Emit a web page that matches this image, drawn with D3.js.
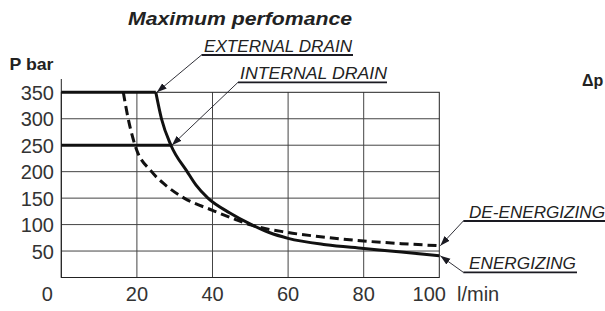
<!DOCTYPE html>
<html>
<head>
<meta charset="utf-8">
<script src="https://cdn.jsdelivr.net/npm/d3@7"></script>
<style>
body { margin: 0; background: #fff; }
svg { display: block; font-family: "Liberation Sans", Arial, sans-serif; }
</style>
</head>
<body>
<div id="chart"></div>
<script>
// values
const energFlow = [25, 26.5, 29, 33.3, 35.6, 38.8, 44.6, 50.3, 55, 60, 70, 80, 90, 100];
const energP    = [350, 300, 250, 200, 175, 150, 122, 100, 85, 74, 62, 55, 48, 41];

const deFlow = [16.4, 17.7, 19.5, 23.9, 27.5, 32.5, 40, 46.3, 50.3, 60, 70, 80, 90, 100];
const deP    = [350, 300, 250, 200, 175, 150, 127, 109, 99, 85, 76, 69, 64, 60];

// drain limits: pressure level and where it meets the energizing curve
const drainP    = [350, 250];
const drainFlow = [25, 29];

const xTicks = [0, 20, 40, 60, 80, 100];
const yTicks = [50, 100, 150, 200, 250, 300, 350];
const gridX = [20, 40, 60, 80];
const gridY = [50, 100, 150, 200, 250, 300];

const svgWidth = 605, svgHeight = 311;

const svg = d3.select("#chart")
  .append("svg")
  .attr("width", svgWidth)
  .attr("height", svgHeight);

const x = d3.scaleLinear().domain([0, 100]).range([61.3, 439.3]);
const y = d3.scaleLinear().domain([0, 350]).range([277.5, 92.3]);

const defs = svg.append("defs");
defs.append("marker")
  .attr("id", "arrow")
  .attr("viewBox", "0 0 10 10")
  .attr("refX", 10)
  .attr("refY", 5)
  .attr("markerWidth", 10)
  .attr("markerHeight", 10)
  .attr("markerUnits", "userSpaceOnUse")
  .attr("orient", "auto")
  .append("path")
  .attr("d", "M0,1.5 L10,5 L0,8.5 Z")
  .attr("fill", "#1a1a22");

// grid
const grid = svg.append("g");
grid.selectAll(".gx")
  .data(gridX)
  .enter()
  .append("line")
  .attr("x1", d => x(d)).attr("x2", d => x(d))
  .attr("y1", y(0)).attr("y2", y(350))
  .attr("stroke", "#444")
  .attr("stroke-width", 1);
grid.selectAll(".gy")
  .data(gridY)
  .enter()
  .append("line")
  .attr("x1", x(0)).attr("x2", x(100))
  .attr("y1", d => y(d)).attr("y2", d => y(d))
  .attr("stroke", "#444")
  .attr("stroke-width", 1);

grid.append("rect")
  .attr("x", x(0)).attr("y", y(350))
  .attr("width", x(100) - x(0))
  .attr("height", y(0) - y(350))
  .attr("fill", "none")
  .attr("stroke", "#222")
  .attr("stroke-width", 1);

// y axis line goes a bit above the frame
grid.append("line")
  .attr("x1", x(0)).attr("x2", x(0))
  .attr("y1", 79).attr("y2", y(0))
  .attr("stroke", "#222");

// tick labels
svg.selectAll(".ylab")
  .data(yTicks)
  .enter()
  .append("text")
  .attr("x", 54)
  .attr("y", d => y(d) + 7.5)
  .attr("text-anchor", "end")
  .attr("font-size", 20)
  .attr("fill", "#333")
  .text(d => d);

svg.selectAll(".xlab")
  .data(xTicks)
  .enter()
  .append("text")
  .attr("x", d => x(d) + (d === 0 ? -14 : d === 100 ? -10 : 0))
  .attr("y", 301)
  .attr("text-anchor", "middle")
  .attr("font-size", 20)
  .attr("fill", "#333")
  .text(d => d);

svg.append("text")
  .attr("x", 457).attr("y", 301)
  .attr("font-size", 20)
  .attr("fill", "#333")
  .text("l/min");

// drain limit lines
svg.selectAll(".drain")
  .data(drainP)
  .enter()
  .append("line")
  .attr("x1", x(0))
  .attr("x2", (d, i) => x(drainFlow[i]))
  .attr("y1", d => y(d)).attr("y2", d => y(d))
  .attr("stroke", "#111")
  .attr("stroke-width", 3);

// curves
const line = d3.line()
  .x(d => x(d[0]))
  .y(d => y(d[1]))
  .curve(d3.curveMonotoneX);

svg.append("path")
  .datum(energFlow.map((f, i) => [f, energP[i]]))
  .attr("d", line)
  .attr("fill", "none")
  .attr("stroke", "#111")
  .attr("stroke-width", 3);

svg.append("path")
  .datum(deFlow.map((f, i) => [f, deP[i]]))
  .attr("d", line)
  .attr("fill", "none")
  .attr("stroke", "#111")
  .attr("stroke-width", 3)
  .attr("stroke-dasharray", "9,5");

// titles
svg.append("text")
  .attr("x", 128).attr("y", 25)
  .attr("font-size", 18)
  .attr("font-weight", "bold")
  .attr("font-style", "italic")
  .attr("fill", "#222")
  .attr("textLength", 224)
  .attr("lengthAdjust", "spacingAndGlyphs")
  .text("Maximum perfomance");

svg.append("text")
  .attr("x", 9.5).attr("y", 70)
  .attr("font-size", 17)
  .attr("font-weight", "bold")
  .attr("fill", "#222")
  .attr("textLength", 44)
  .attr("lengthAdjust", "spacingAndGlyphs")
  .text("P bar");

svg.append("text")
  .attr("x", 582).attr("y", 86)
  .attr("font-size", 16)
  .attr("font-weight", "bold")
  .attr("fill", "#222")
  .text("\u0394p");

// callouts: label, text box, leader start, point it points to
const callouts = [
  { text: "EXTERNAL DRAIN", tx: 204, ty: 52.3, tw: 148, lx: 201.5, ly: 55, ux: 353, px: 25, pp: 350 },
  { text: "INTERNAL DRAIN", tx: 240, ty: 79.3, tw: 147, lx: 238, ly: 82.3, ux: 387, px: 29, pp: 250 },
  { text: "DE-ENERGIZING", tx: 469, ty: 218.3, tw: 136, lx: 463.3, ly: 221, ux: 605, px: 100, pp: 60 },
  { text: "ENERGIZING", tx: 469, ty: 269, tw: 107, lx: 463.3, ly: 272.3, ux: 577, px: 100, pp: 41 }
];

callouts.forEach(function(c) {
  svg.append("text")
    .attr("x", c.tx).attr("y", c.ty)
    .attr("font-size", 16)
    .attr("font-style", "italic")
    .attr("fill", "#222")
    .attr("textLength", c.tw)
    .attr("lengthAdjust", "spacingAndGlyphs")
    .text(c.text);
  // underline
  svg.append("line")
    .attr("x1", c.lx).attr("x2", c.ux)
    .attr("y1", c.ly).attr("y2", c.ly)
    .attr("stroke", "#1a1a22")
    .attr("stroke-width", 1.8);
  // leader with arrow
  svg.append("line")
    .attr("x1", c.lx).attr("y1", c.ly)
    .attr("x2", x(c.px) + 1).attr("y2", y(c.pp))
    .attr("stroke", "#1a1a22")
    .attr("stroke-width", 0.9)
    .attr("marker-end", "url(#arrow)");
});
</script>
</body>
</html>
